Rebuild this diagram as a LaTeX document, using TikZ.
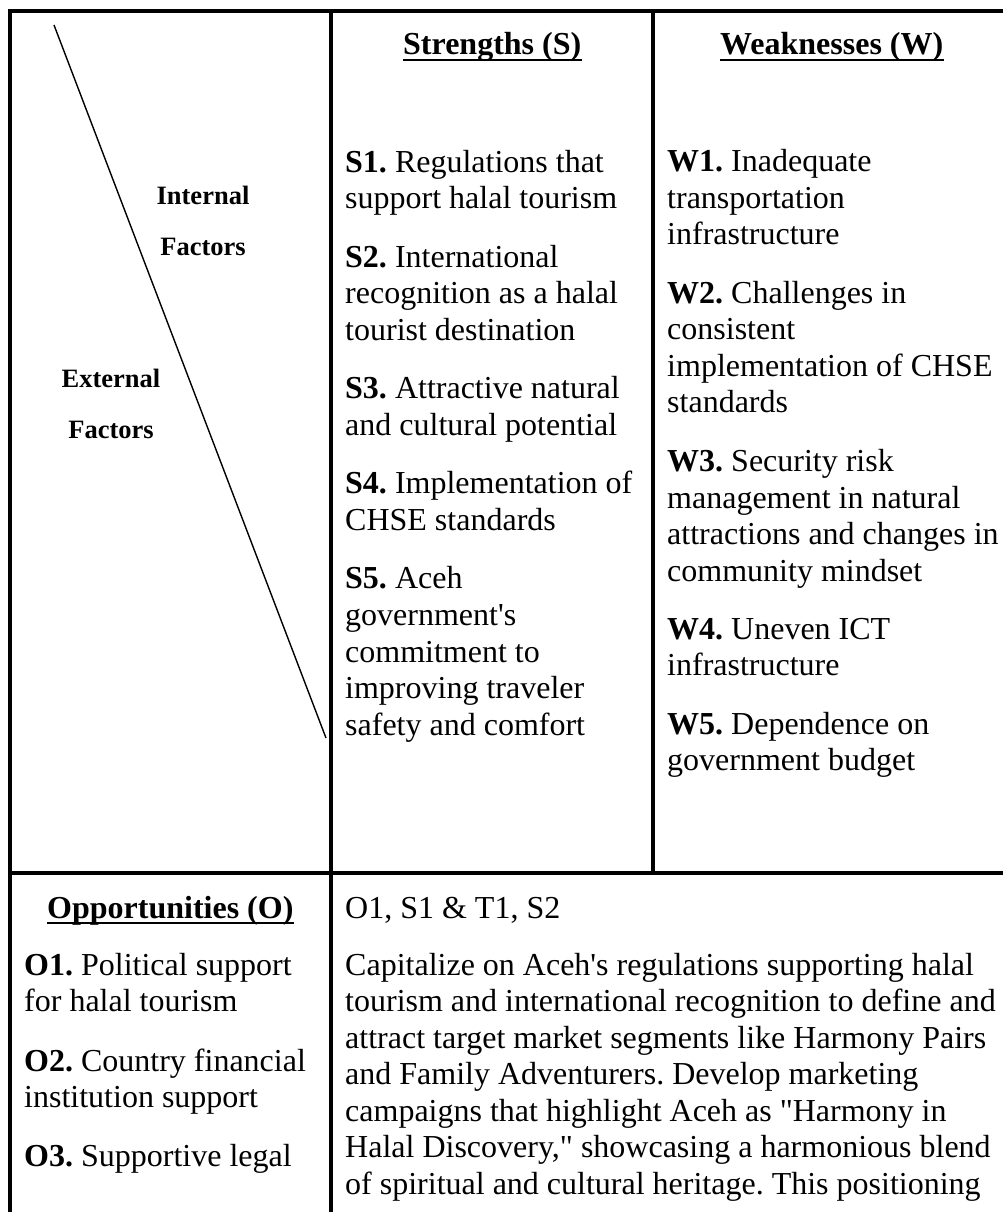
\documentclass[tikz,border=0pt]{standalone}
\usepackage{fontspec}
\setmainfont{Liberation Serif}[Ligatures=TeXOff]
\frenchspacing
\tikzset{
  txt/.style={anchor=base west, inner sep=0pt, font=\fontsize{32}{36.5}\selectfont},
  hd/.style={anchor=base west, inner sep=0pt, font=\fontsize{32}{36.5}\selectfont\bfseries},
  lbl/.style={anchor=base, inner sep=0pt, font=\fontsize{26.5}{30}\selectfont\bfseries},
  frame/.style={line width=3.4pt},
  diag/.style={line width=1.4pt},
  uline/.style={line width=2.4pt}
}
\begin{document}
\frenchspacing
\begin{tikzpicture}[x=1pt,y=-1pt]
\useasboundingbox (0,0) rectangle (1003,1212);
\clip (0,0) rectangle (1003,1212);
\fill[white] (0,0) rectangle (1003,1212);
% frame
\draw[frame] (10,1230) -- (10,11) -- (1013,11) -- (1013,1230);
\draw[frame] (331,11) -- (331,1230);
\draw[frame] (653,11) -- (653,873);
\draw[frame] (10,873) -- (1013,873);
% diagonal
\coordinate (d1) at (54,25);
\coordinate (d2) at (326,738);
\draw[diag] (d1) -- (d2);
% corner labels
\node[lbl] (int1) at (203,204) {Internal};
\node[lbl] (int2) at (203,255) {Factors};
\node[lbl] (ext1) at (111,387) {External};
\node[lbl] (ext2) at (111,438) {Factors};
% headings
\node[hd] (hs) at (403,55) {Strengths (S)};
\node[hd] (hw) at (720,55) {Weaknesses (W)};
\node[hd] (ho) at (47,918) {Opportunities (O)};
\draw[uline] ([yshift=-5pt]hs.base west) -- ([yshift=-5pt]hs.base east);
\draw[uline] ([yshift=-5pt]hw.base west) -- ([yshift=-5pt]hw.base east);
\draw[uline] ([yshift=-5pt]ho.base west) -- ([yshift=-5pt]ho.base east);
% strengths
\node[txt] (s1a) at (345,172) {\textbf{S1.} Regulations that};
\node[txt] (s1b) at (345,208.5) {support halal tourism};
\node[txt] (s2a) at (345,267) {\textbf{S2.} International};
\node[txt] (s2b) at (345,303.5) {recognition as a halal};
\node[txt] (s2c) at (345,340) {tourist destination};
\node[txt] (s3a) at (345,398) {\textbf{S3.} Attractive natural};
\node[txt] (s3b) at (345,435) {and cultural potential};
\node[txt] (s4a) at (345,493) {\textbf{S4.} Implementation of};
\node[txt] (s4b) at (345,530) {CHSE standards};
\node[txt] (s5a) at (345,588) {\textbf{S5.} Aceh};
\node[txt] (s5b) at (345,625) {government's};
\node[txt] (s5c) at (345,662) {commitment to};
\node[txt] (s5d) at (345,698) {improving traveler};
\node[txt] (s5e) at (345,735) {safety and comfort};
% weaknesses
\node[txt] (w1a) at (667,171) {\textbf{W1.} Inadequate};
\node[txt] (w1b) at (667,208) {transportation};
\node[txt] (w1c) at (667,244.5) {infrastructure};
\node[txt] (w2a) at (667,303) {\textbf{W2.} Challenges in};
\node[txt] (w2b) at (667,339.5) {consistent};
\node[txt] (w2c) at (667,376) {implementation of CHSE};
\node[txt] (w2d) at (667,412.5) {standards};
\node[txt] (w3a) at (667,471.5) {\textbf{W3.} Security risk};
\node[txt] (w3b) at (667,508) {management in natural};
\node[txt] (w3c) at (667,544.5) {attractions and changes in};
\node[txt] (w3d) at (667,581) {community mindset};
\node[txt] (w4a) at (667,639) {\textbf{W4.} Uneven ICT};
\node[txt] (w4b) at (667,675.5) {infrastructure};
\node[txt] (w5a) at (667,734) {\textbf{W5.} Dependence on};
\node[txt] (w5b) at (667,770.5) {government budget};
% opportunities
\node[txt] (o1a) at (24,975) {\textbf{O1.} Political support};
\node[txt] (o1b) at (24,1011.5) {for halal tourism};
\node[txt] (o2a) at (24,1071) {\textbf{O2.} Country financial};
\node[txt] (o2b) at (24,1107.5) {institution support};
\node[txt] (o3a) at (24,1166) {\textbf{O3.} Supportive legal};
% strategy
\node[txt] (soa) at (345,918) {O1, S1 \& T1, S2};
\node[txt] (sob) at (345,975) {Capitalize on Aceh's regulations supporting halal};
\node[txt] (soc) at (345,1011.5) {tourism and international recognition to define and};
\node[txt] (sod) at (345,1048) {attract target market segments like Harmony Pairs};
\node[txt] (soe) at (345,1084.5) {and Family Adventurers. Develop marketing};
\node[txt] (sof) at (345,1121) {campaigns that highlight Aceh as "Harmony in};
\node[txt] (sog) at (345,1157.5) {Halal Discovery," showcasing a harmonious blend};
\node[txt] (soh) at (345,1194) {of spiritual and cultural heritage. This positioning};
\end{tikzpicture}
\end{document}
